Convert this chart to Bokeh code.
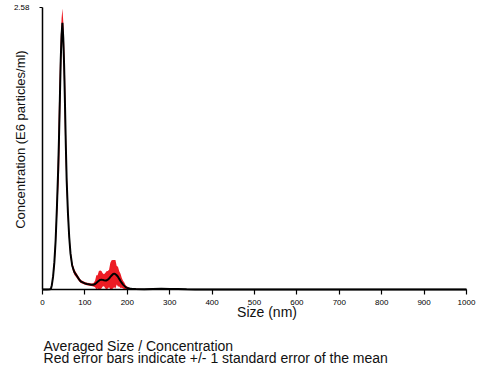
from bokeh.plotting import figure
from bokeh.models import Range1d, FixedTicker, Label
from bokeh.embed import file_html
from bokeh.resources import INLINE

# ---- data ----
sizes = [0, 10, 18, 20, 22, 25, 28, 31, 34, 37, 39, 41, 43, 45, 47, 49, 51, 53, 55, 57,
         60, 63, 66, 70, 75, 80, 85, 90, 95, 100, 105, 110, 115, 120, 124, 127, 130, 133,
         136, 139, 142, 145, 148, 151, 154, 157, 160, 163, 166, 169, 172, 175, 178, 181,
         184, 187, 190, 193, 196, 200, 205, 210, 220, 240, 260, 280, 300, 320, 340, 360,
         400, 500, 1000]
conc = [0, 0, 0.003, 0.01, 0.04, 0.12, 0.25, 0.45, 0.75, 1.1, 1.4, 1.75, 2.1, 2.33, 2.44,
        2.3, 2.05, 1.7, 1.32, 1.0, 0.7, 0.48, 0.33, 0.22, 0.16, 0.13, 0.1, 0.075, 0.065,
        0.056, 0.05, 0.047, 0.043, 0.043, 0.05, 0.06, 0.07, 0.08, 0.088, 0.09, 0.088,
        0.084, 0.082, 0.083, 0.09, 0.1, 0.115, 0.128, 0.14, 0.145, 0.14, 0.13, 0.117,
        0.097, 0.078, 0.06, 0.045, 0.033, 0.022, 0.014, 0.009, 0.006, 0.004, 0.003,
        0.005, 0.006, 0.005, 0.004, 0.002, 0.001, 0, 0, 0]
sem = [0, 0, 0.003, 0.008, 0.015, 0.03, 0.05, 0.08, 0.12, 0.2, 0.35, 0.3, 0.2, 0.15, 0.13,
       0.15, 0.2, 0.3, 0.2, 0.12, 0.08, 0.05, 0.04, 0.03, 0.025, 0.02, 0.018, 0.015, 0.013,
       0.012, 0.012, 0.012, 0.012, 0.015, 0.03, 0.07, 0.06, 0.09, 0.085, 0.08, 0.06,
       0.055, 0.07, 0.085, 0.08, 0.08, 0.13, 0.14, 0.13, 0.125, 0.13, 0.085, 0.09,
       0.07, 0.065, 0.045, 0.035, 0.03, 0.018, 0.012, 0.008, 0.005, 0.003, 0.002,
       0.003, 0.003, 0.003, 0.002, 0.001, 0.001, 0, 0, 0]
x_ticks = [0, 100, 200, 300, 400, 500, 600, 700, 800, 900, 1000]
y_ticks = [2.58]

x_title = "Size (nm)"
y_title = "Concentration (E6 particles/ml)"
caption1 = "Averaged Size / Concentration"
caption2 = "Red error bars indicate +/- 1 standard error of the mean"

lower = [max(0.0, m - s) for m, s in zip(conc, sem)]
upper = [m + s for m, s in zip(conc, sem)]

FONT = "Liberation Sans"
RED = "#ed1c24"
INK = "#000000"

# frame covers the whole canvas; axes are pinned at 0 with fixed_location
p = figure(width=480, height=366, output_backend="svg", toolbar_location=None,
           x_range=Range1d(-99.06, 1033.02), y_range=Range1d(-0.7045, 2.6441),
           min_border_left=0, min_border_right=0, min_border_top=0, min_border_bottom=0)
p.outline_line_color = None
p.grid.visible = False
p.background_fill_color = "white"
p.border_fill_color = "white"

p.varea(x=sizes, y1=lower, y2=upper, fill_color=RED, fill_alpha=1.0)
p.line(x=sizes, y=conc, line_color="black", line_width=2)

xa = p.xaxis[0]
xa.fixed_location = 0
xa.bounds = (0, 1000)
xa.ticker = FixedTicker(ticks=x_ticks)
xa.major_tick_in = 0
xa.major_tick_out = 5
xa.minor_tick_out = 0
xa.minor_tick_in = 0
xa.axis_line_width = 1.7
xa.major_tick_line_width = 1.2
xa.major_label_text_font = FONT
xa.major_label_text_font_size = "8px"
xa.major_label_text_color = INK
xa.major_label_standoff = 6

ya = p.yaxis[0]
ya.fixed_location = 0
ya.bounds = (0, 2.58)
ya.ticker = FixedTicker(ticks=y_ticks)
ya.major_tick_in = 0
ya.major_tick_out = 3
ya.minor_tick_out = 0
ya.minor_tick_in = 0
ya.axis_line_width = 1.5
ya.major_tick_line_width = 1.2
ya.major_label_text_font = FONT
ya.major_label_text_font_size = "8px"
ya.major_label_text_color = INK
ya.major_label_standoff = 10

p.add_layout(Label(x=-51.9, y=1.372, text=y_title, angle=90, angle_units="deg",
                   text_align="center", text_baseline="middle", text_font=FONT,
                   text_font_size="13px", text_color="#111111"))
p.add_layout(Label(x=529.5, y=-0.206, text=x_title, text_align="center",
                   text_baseline="middle", text_font=FONT, text_font_size="14px",
                   text_color="#111111"))
p.add_layout(Label(x=2.4, y=-0.5215, text=caption1, text_align="left",
                   text_baseline="alphabetic", text_font=FONT, text_font_size="14px",
                   text_color="#111111"))
p.add_layout(Label(x=2.4, y=-0.6267, text=caption2, text_align="left",
                   text_baseline="alphabetic", text_font=FONT, text_font_size="14px",
                   text_color="#111111"))

open("out.html", "w").write(file_html(p, INLINE))
